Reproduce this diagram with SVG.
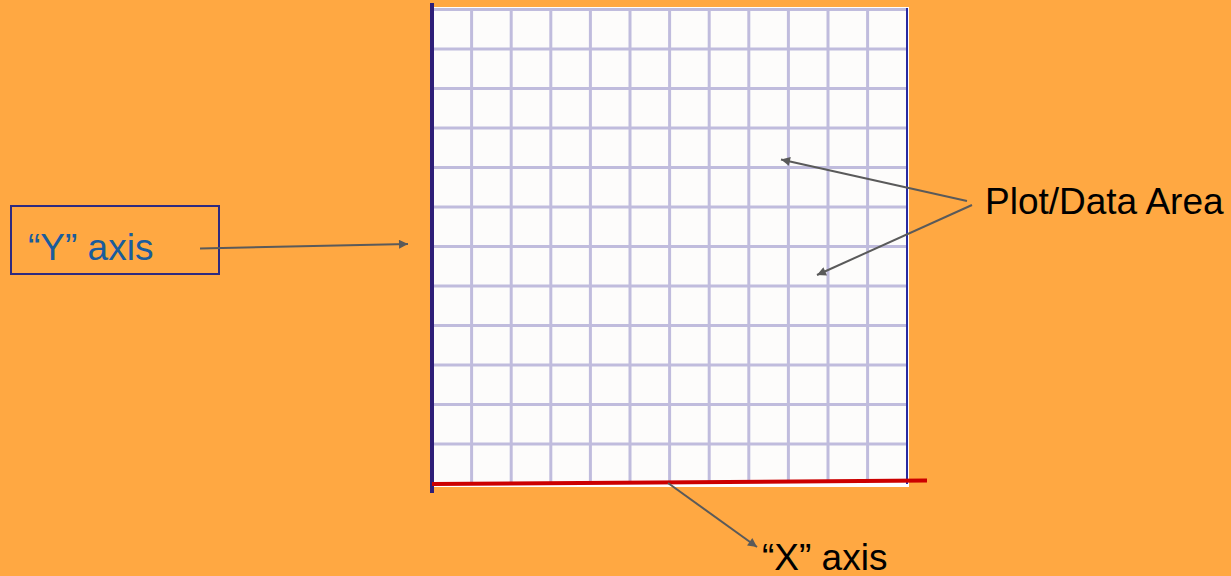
<svg xmlns="http://www.w3.org/2000/svg" width="1231" height="576" viewBox="0 0 1231 576">
<defs>
<style>
.grid line{stroke:#c0bcdd;stroke-width:3}
.conn line{stroke:#5a5a5a;stroke-width:2;marker-end:url(#ah)}
.lbl{font-family:"Liberation Sans",Arial,sans-serif;font-size:37px}
</style>
<marker id="ah" viewBox="0 0 10 10" refX="10" refY="5" markerWidth="11" markerHeight="9" markerUnits="userSpaceOnUse" orient="auto">
<path d="M0,0 L10,5 L0,10 z" fill="#5a5a5a"/>
</marker>
</defs>
<rect width="1231" height="576" fill="#FFA842"/>
<g id="plot-area">
<rect x="431" y="7" width="478" height="480" fill="#ffffff"/>
<rect x="432" y="9" width="475" height="474" fill="#fdfcfb"/>
<g class="grid">
<line x1="471.6" y1="9" x2="471.6" y2="483"/>
<line x1="511.2" y1="9" x2="511.2" y2="483"/>
<line x1="550.8" y1="9" x2="550.8" y2="483"/>
<line x1="590.4" y1="9" x2="590.4" y2="483"/>
<line x1="630" y1="9" x2="630" y2="483"/>
<line x1="669.6" y1="9" x2="669.6" y2="483"/>
<line x1="709.2" y1="9" x2="709.2" y2="483"/>
<line x1="748.8" y1="9" x2="748.8" y2="483"/>
<line x1="788.4" y1="9" x2="788.4" y2="483"/>
<line x1="828" y1="9" x2="828" y2="483"/>
<line x1="867.6" y1="9" x2="867.6" y2="483"/>
<line x1="432" y1="9.5" x2="907" y2="9.5"/>
<line x1="432" y1="49" x2="907" y2="49"/>
<line x1="432" y1="88.5" x2="907" y2="88.5"/>
<line x1="432" y1="128" x2="907" y2="128"/>
<line x1="432" y1="167.5" x2="907" y2="167.5"/>
<line x1="432" y1="207" x2="907" y2="207"/>
<line x1="432" y1="246.5" x2="907" y2="246.5"/>
<line x1="432" y1="286" x2="907" y2="286"/>
<line x1="432" y1="325.5" x2="907" y2="325.5"/>
<line x1="432" y1="365" x2="907" y2="365"/>
<line x1="432" y1="404.5" x2="907" y2="404.5"/>
<line x1="432" y1="444" x2="907" y2="444"/>
</g>
<line x1="907" y1="8" x2="907" y2="484" stroke="#2a2aa0" stroke-width="2"/>
</g>
<g id="y-axis-line">
<line x1="432" y1="3" x2="432" y2="493" stroke="#2e1f78" stroke-width="4"/>
</g>
<g id="x-axis-line">
<line x1="432" y1="484" x2="927" y2="480.5" stroke="#cc0000" stroke-width="4"/>
</g>
<g id="y-axis-label">
<rect x="11" y="206" width="208" height="68" fill="none" stroke="#2e2a80" stroke-width="2"/>
<text class="lbl" x="28" y="260" fill="#1a5c9c">“Y” axis</text>
</g>
<g id="plot-label">
<text class="lbl" x="985" y="214" fill="#000000">Plot/Data Area</text>
</g>
<g id="x-axis-label">
<text class="lbl" x="762" y="570" fill="#000000">“X” axis</text>
</g>
<g class="conn" id="connectors">
<line x1="200" y1="248.5" x2="408" y2="244"/>
<line x1="967" y1="201" x2="781" y2="159.5"/>
<line x1="972" y1="205" x2="817" y2="275"/>
<line x1="668" y1="483" x2="757" y2="547"/>
</g>
</svg>
